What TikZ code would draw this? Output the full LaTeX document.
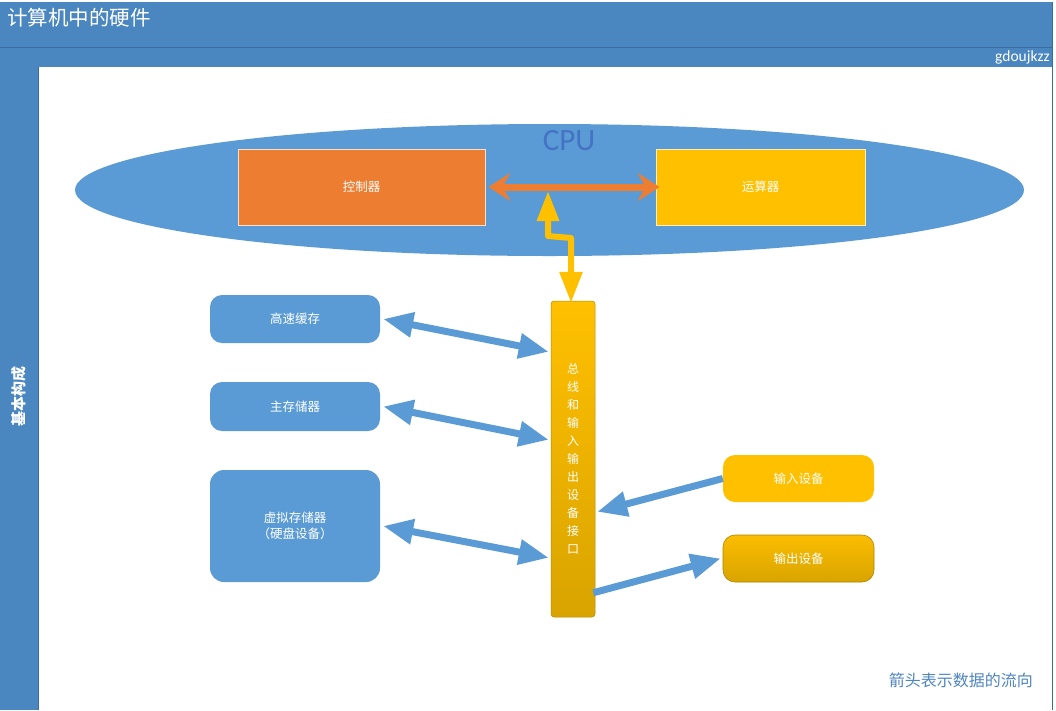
\documentclass[tikz,border=0pt]{standalone}
\usepackage{fontspec}
\setmainfont{Noto Sans CJK SC}
\newfontfamily\latinf{Carlito}
\usetikzlibrary{arrows.meta,calc,shapes.geometric}
\definecolor{hdr}{HTML}{4A86BF}
\definecolor{hdrdark}{HTML}{3A6C9E}
\definecolor{cpublue}{HTML}{5B9BD5}
\definecolor{cputext}{HTML}{4472C4}
\definecolor{orng}{HTML}{ED7D31}
\definecolor{gold}{HTML}{FFC000}
\definecolor{golddark}{HTML}{D9A400}
\definecolor{arrblue}{HTML}{5B9BD5}
\definecolor{notecol}{HTML}{4F86C0}
\tikzset{
  box/.style={draw=none, text=white, inner sep=0pt, font=\fontsize{12.5}{15.5}\selectfont, align=center},
  bluebox/.style={box, fill=cpublue, rounded corners=12pt, minimum width=170pt},
  goldbox/.style={box, rounded corners=12pt, minimum width=151pt, minimum height=47pt},
  blueline/.style={draw=arrblue, line width=7pt},
  dbl/.style={blueline, {Triangle[length=30pt,width=24pt]}-{Triangle[length=30pt,width=24pt]}},
  sgl/.style={blueline, -{Triangle[length=30pt,width=24pt]}},
}
\begin{document}
\begin{tikzpicture}[x=1pt,y=-1pt]
\useasboundingbox (0,0) rectangle (1056,710);
\fill[white] (0,0) rectangle (1056,710);
% frame
\fill[hdr] (0,2) rectangle (1052,67);
\fill[hdr] (0,67) rectangle (38,710);
\draw[hdrdark] (0,47) -- (1052,47);
\draw[hdrdark] (38,67) -- (38,710);
\draw[hdrdark] (1052,2) -- (1052,710);
\node[anchor=west, text=white, inner sep=0pt, font=\fontsize{20.5}{24}\selectfont] (title) at (7,18) {计算机中的硬件};
\node[anchor=east, text=white, inner sep=0pt, font=\latinf\fontsize{15.5}{17}\selectfont] (author) at (1050,57) {gdoujkzz};
\node[rotate=90, text=white, inner sep=0pt, font=\fontsize{15}{17}\selectfont\bfseries] (side) at (19,396) {基本构成};
% CPU
\node[ellipse, fill=cpublue, minimum width=949pt, minimum height=132pt, inner sep=0pt] (cpu) at (549.5,190) {};
\node[text=cputext, inner sep=0pt, font=\latinf\fontsize{31}{34}\selectfont] (cpulabel) at (569,141) {CPU};
\node[box, fill=orng, draw=white!75!orng, line width=0.8pt, minimum width=247pt, minimum height=76pt] (ctrl) at (361.5,187) {控制器};
\node[box, fill=gold, draw=white!70!gold, line width=0.8pt, minimum width=209pt, minimum height=76pt] (alu) at (760.5,187) {运算器};
% bus
\node[box, top color=gold, bottom color=golddark, draw=golddark!85!black, line width=0.5pt, rounded corners=3pt, minimum width=44pt, minimum height=316pt, font=\fontsize{12}{18}\selectfont] (bus) at (573,459) {总\\线\\和\\输\\入\\输\\出\\设\\备\\接\\口};
% left boxes
\node[bluebox, minimum height=48pt] (cache) at (295,319) {高速缓存};
\node[bluebox, minimum height=49pt] (mem) at (295,406.5) {主存储器};
\node[bluebox, minimum height=112pt, rounded corners=14pt] (virt) at (295,526) {虚拟存储器\\（硬盘设备）};
% right boxes
\node[goldbox, fill=gold] (inp) at (798.5,478.5) {输入设备};
\node[goldbox, top color=gold!90!golddark, bottom color=golddark, draw=golddark!80!black, line width=0.6pt] (outp) at (798.5,558.5) {输出设备};
% CPU internal arrows
\draw[orng, line width=7pt, {Stealth[length=22pt,width=28pt,inset=8pt]}-{Stealth[length=22pt,width=28pt,inset=8pt]}] ([xshift=3pt]ctrl.east) -- ([xshift=4pt]alu.west);
\coordinate (junc) at (548,191);
\draw[gold, line width=6pt, line join=round, {Triangle[length=30pt,width=21pt]}-{Triangle[length=31pt,width=22pt]}] (junc) -- (548,236) -- (571,238) -- ([yshift=-2pt]bus.north -| 571,0);
% memory arrows
\draw[dbl] ([xshift=3pt]cache.east) -- ($(bus.north west)+(-2,51)$);
\draw[dbl] ([xshift=3pt]mem.east) -- ($(bus.north west)+(-2,139)$);
\draw[dbl] ([xshift=3pt]virt.east) -- ($(bus.north west)+(-2,257)$);
\draw[sgl] (inp.west) -- ($(bus.north east)+(2,211)$);
\draw[sgl] ($(bus.north east)+(-2,292)$) -- ([xshift=-2pt]outp.west);
% note
\node[anchor=east, text=notecol, inner sep=0pt, font=\fontsize{16}{18}\selectfont] (note) at (1033,680) {箭头表示数据的流向};
\end{tikzpicture}
\end{document}
